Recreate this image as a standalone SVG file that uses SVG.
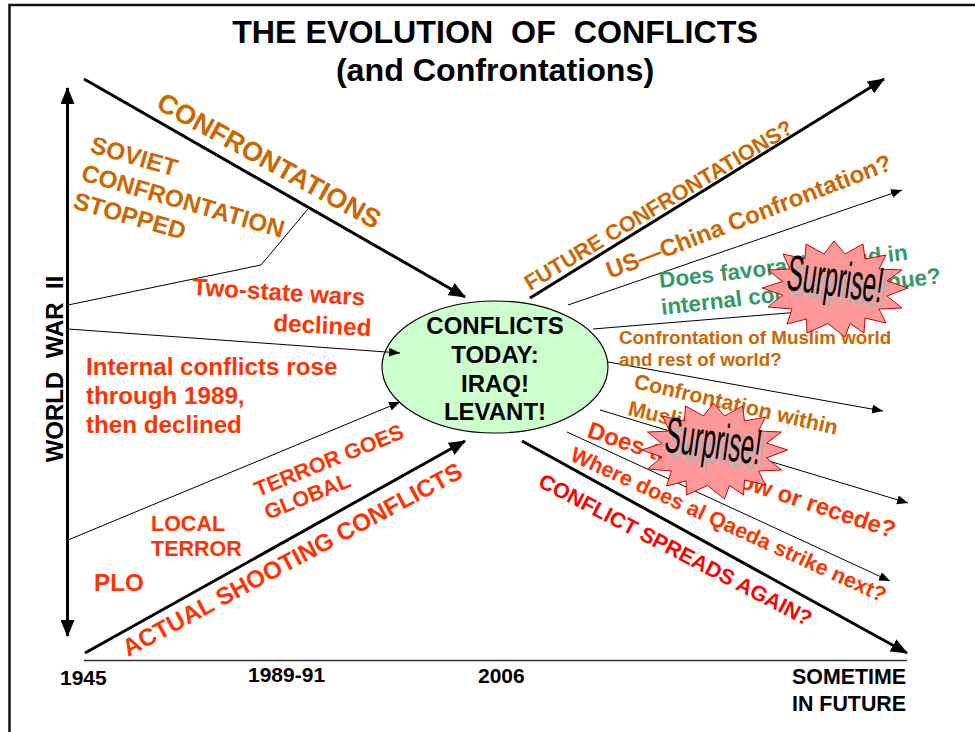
<svg xmlns="http://www.w3.org/2000/svg" width="975" height="732" viewBox="0 0 975 732">
<style>
text{font-family:"Liberation Sans",Arial,sans-serif;font-weight:bold}
.k{fill:#000}.o{fill:#cc6600}.r{fill:#ff3300}.e{fill:#ff0000}.g{fill:#339966}
.thick{stroke:#000;stroke-width:3;fill:none}
.thin{stroke:#000;stroke-width:1;fill:none}
.star{fill:#ff9999;stroke:#cc0000;stroke-width:1}
.sp{font-weight:normal;font-size:36px;text-anchor:middle}
</style>
<defs>
<marker id="big" markerUnits="userSpaceOnUse" markerWidth="18" markerHeight="14" refX="16" refY="7" orient="auto-start-reverse"><path d="M0 0L17 7L0 14Z" fill="#000"/></marker>
<marker id="small" markerUnits="userSpaceOnUse" markerWidth="12" markerHeight="10" refX="11" refY="4.5" orient="auto"><path d="M0 0L11 4.5L0 9Z" fill="#000"/></marker>
<polygon id="burst" class="star" points="-1,-48 10,-35 28,-45 30,-30 51,-34 44,-20 67,-19 52,-8 73,-1 52,7 67,19 44,20 51,34 30,29 29,44 15,34.5 10,48 -7,34.5 -28,44 -28.5,30 -48,35 -43,20 -67,18 -52.5,6 -73,-1 -52.5,-7.5 -67,-19 -45,-20 -52,-35 -30,-30 -29,-45 -11,-35"/>
</defs>
<rect width="975" height="732" fill="#fff"/>
<g id="frame"><path d="M9.5 732V5H975" fill="none" stroke="#111" stroke-width="2.5"/></g>
<g id="node-today">
<ellipse cx="495" cy="367" rx="113" ry="66" fill="#ccffcc" stroke="#000" stroke-width="1.2"/>
<g class="k" font-size="24" text-anchor="middle">
<text x="495" y="334">CONFLICTS</text>
<text x="495" y="363">TODAY:</text>
<text x="495" y="392">IRAQ!</text>
<text x="495" y="420">LEVANT!</text>
</g>
</g>
<g id="connectors">
<path class="thick" d="M67.5 88V636" marker-start="url(#big)" marker-end="url(#big)"/>
<path class="thick" d="M84 79L465 297" marker-end="url(#big)"/>
<path class="thick" d="M85 653L465 441" marker-end="url(#big)"/>
<path class="thick" d="M530 298L884 79" marker-end="url(#big)"/>
<path class="thick" d="M522 441L907 653" marker-end="url(#big)"/>
<path d="M84 660.5H907" fill="none" stroke="#333" stroke-width="1.5"/>
<path class="thin" d="M68 305L261 265L308 209"/>
<path class="thin" d="M68 329L400 353" marker-end="url(#small)"/>
<path class="thin" d="M68 540L400 402" marker-end="url(#small)"/>
<path class="thin" d="M568 305L902 190" marker-end="url(#small)"/>
<path class="thin" d="M593 329L800 312"/>
<path class="thin" d="M608 362L883 411" marker-end="url(#small)"/>
<path class="thin" d="M600 410L908 503" marker-end="url(#small)"/>
<path class="thin" d="M567 432L890 581" marker-end="url(#small)"/>
</g>
<g id="title">
<text class="k" x="495" y="43" font-size="32.2" text-anchor="middle" xml:space="preserve">THE EVOLUTION  OF  CONFLICTS</text>
<text class="k" x="495" y="81" font-size="32.2" text-anchor="middle">(and Confrontations)</text>
</g>
<g id="labels-left">
<text class="k" font-size="24" text-anchor="middle" transform="translate(63,369) rotate(-90)" xml:space="preserve">WORLD  WAR  II</text>
<text class="o" font-size="27" transform="translate(155,108) rotate(29)">CONFRONTATIONS</text>
<g class="o" font-size="24.3">
<text transform="translate(89,152) rotate(16)">SOVIET</text>
<text transform="translate(80,180) rotate(16)">CONFRONTATION</text>
<text transform="translate(72,208) rotate(16)">STOPPED</text>
</g>
<g class="r" font-size="24.2">
<text transform="translate(192,295) rotate(3.5)">Two-state wars</text>
<text transform="translate(273,331) rotate(3)">declined</text>
<text x="86" y="375">Internal conflicts rose</text>
<text x="86" y="404">through 1989,</text>
<text x="86" y="433">then declined</text>
<text x="94" y="591">PLO</text>
<text transform="translate(128,657) rotate(-28.2)" font-size="24.3">ACTUAL SHOOTING CONFLICTS</text>
</g>
<g class="r" font-size="21.5">
<text x="151" y="531">LOCAL</text>
<text x="151" y="556">TERROR</text>
<text transform="translate(258,497) rotate(-22)">TERROR GOES</text>
<text transform="translate(268,520) rotate(-22)">GLOBAL</text>
</g>
</g>
<g id="labels-right">
<text class="o" font-size="21.7" transform="translate(530,291) rotate(-31)">FUTURE CONFRONTATIONS?</text>
<text class="o" font-size="24" transform="translate(610,279) rotate(-21.2)">US—China Confrontation?</text>
<g class="g" font-size="22.5">
<text transform="translate(660,288) rotate(-6.5)">Does favorable trend in</text>
<text transform="translate(662,315) rotate(-6.5)">internal conflict continue?</text>
</g>
<g class="o" font-size="18.8">
<text x="619" y="344">Confrontation of Muslim world</text>
<text x="619" y="366">and rest of world?</text>
</g>
<g class="o" font-size="21.3">
<text transform="translate(633,388) rotate(13)">Confrontation within</text>
<text transform="translate(627,415) rotate(13)">Muslim world?</text>
</g>
<text class="r" font-size="24" transform="translate(586,437) rotate(18.3)">Does terror grow or recede?</text>
<text class="r" font-size="21.5" transform="translate(569,460) rotate(24.5)">Where does al Qaeda strike next?</text>
<text class="e" font-size="21.4" transform="translate(537,486) rotate(27.5)">CONFLICT SPREADS AGAIN?</text>
</g>
<g id="axis-labels" class="k">
<text x="60" y="685" font-size="21">1945</text>
<text x="248" y="682" font-size="21">1989-91</text>
<text x="478" y="683" font-size="21">2006</text>
<text x="792" y="684" font-size="21.4">SOMETIME</text>
<text x="792" y="711" font-size="21.4">IN FUTURE</text>
</g>
<g id="surprise-1">
<use href="#burst" x="835" y="289"/>
<text class="sp" fill="#b2b2b2" transform="translate(836,302) rotate(8) scale(.67,1.25)">Surprise!</text>
<text class="sp" fill="#000" transform="translate(833,296) rotate(8) scale(.67,1.4)">Surprise!</text>
</g>
<g id="surprise-2">
<use href="#burst" x="714.5" y="451"/>
<text class="sp" fill="#b2b2b2" transform="translate(714,464) rotate(8) scale(.67,1.25)">Surprise!</text>
<text class="sp" fill="#000" transform="translate(711,458) rotate(8) scale(.67,1.4)">Surprise!</text>
</g>
</svg>
